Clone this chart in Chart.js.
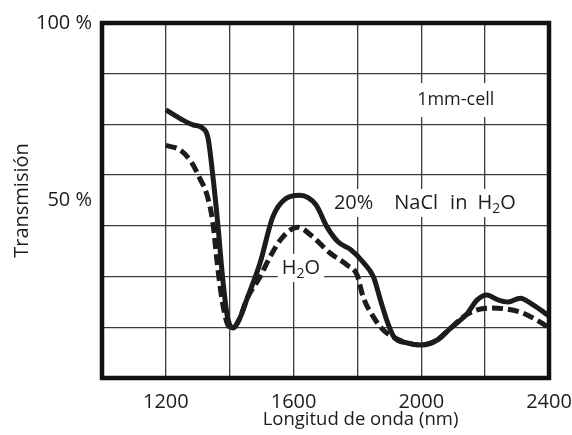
<!DOCTYPE html>
<html>
<head>
<meta charset="utf-8">
<script src="https://cdn.jsdelivr.net/npm/chart.js@4.4.0/dist/chart.umd.min.js"></script>
<style>
    html, body { margin: 0; padding: 0; background: #fff; }
    #wrap { width: 572px; height: 435px; }
</style>
</head>
<body>
<div id="wrap"><canvas id="myChart"></canvas></div>
<script>
// 20% NaCl in H2O (solid line)
const naclNm = [1200, 1250, 1285, 1315, 1332, 1348, 1363, 1377, 1392, 1410, 1430, 1455, 1495, 1535, 1575, 1620, 1670, 1705, 1740, 1780, 1820, 1850, 1872, 1895, 1915, 1955, 2000, 2050, 2085, 2145, 2175, 2205, 2240, 2272, 2310, 2350, 2400]
const naclT = [75.5, 72.8, 71.3, 70.4, 67.6, 56.3, 43.1, 29.0, 17.7, 14.1, 16.5, 22.5, 32.4, 45.4, 50.5, 51.5, 48.8, 42.5, 38.3, 36.1, 32.4, 28.5, 22.0, 15.5, 11.5, 9.9, 9.3, 10.7, 13.5, 18.3, 22.0, 23.4, 22.0, 21.4, 22.5, 20.6, 17.5]

// pure H2O (dashed line)
const waterNm = [1200, 1245, 1280, 1306, 1329, 1347, 1360, 1376, 1394, 1410, 1430, 1455, 1495, 1526, 1566, 1613, 1661, 1714, 1768, 1799, 1818, 1850, 1881, 1913, 1955, 2000, 2050, 2085, 2131, 2175, 2215, 2268, 2318, 2362, 2400]
const waterT = [65.5, 64.2, 60.8, 56.3, 51.5, 43.9, 33.0, 22.0, 15.0, 14.1, 16.5, 22.5, 28.5, 34.1, 39.7, 42.5, 39.7, 35.2, 31.8, 29.0, 22.8, 17.2, 13.5, 11.5, 9.9, 9.3, 10.7, 13.5, 17.2, 19.2, 19.7, 19.4, 18.3, 16.3, 14.2]

const xLabels = [1200, 1600, 2000, 2400]
const yLabels = [50, 100]
const yGridSteps = 7
const xTitle = 'Longitud de onda (nm)'

const FONT = "'Open Sans', 'DejaVu Sans', sans-serif"
const INK = '#1c1c1c'

// text notes inside the plot (data coords + text parts; sub = subscript, gap = extra space)
const notes = [
    { x: 2108, y: 78.3, padX: 3, padY: 17, size: 18, parts: [{ t: '1mm-cell' }] },
    { x: 2011, y: 49.3, padX: 4, padY: 14, size: 20, parts: [{ t: '20%' }, { gap: 21 }, { t: 'NaCl' }, { gap: 12 }, { t: 'in' }, { gap: 10 }, { t: 'H' }, { t: '2', sub: true }, { t: 'O' }] },
    { x: 1623, y: 31.0, padX: 4, padY: 14, size: 20, parts: [{ t: 'H' }, { t: '2', sub: true }, { t: 'O' }] }
]

const notesPlugin = {
    id: 'notes',
    beforeDatasetsDraw(chart) {
        const ctx = chart.ctx
        const xs = chart.scales.x
        const ys = chart.scales.y
        ctx.save()
        ctx.textBaseline = 'middle'
        ctx.textAlign = 'left'
        notes.forEach(n => {
            const subSize = Math.round(n.size * 0.68)
            let w = 0
            n.parts.forEach(p => {
                if (p.gap) { p.w = p.gap } else {
                    ctx.font = (p.sub ? subSize : n.size) + 'px ' + FONT
                    p.w = ctx.measureText(p.t).width
                }
                w += p.w
            })
            const cx = xs.getPixelForValue(n.x)
            const cy = ys.getPixelForValue(n.y)
            ctx.fillStyle = '#fff'
            ctx.fillRect(cx - w / 2 - n.padX, cy - n.padY, w + 2 * n.padX, 2 * n.padY)
            ctx.fillStyle = INK
            let x = cx - w / 2
            n.parts.forEach(p => {
                if (!p.gap) {
                    ctx.font = (p.sub ? subSize : n.size) + 'px ' + FONT
                    ctx.fillText(p.t, x, p.sub ? cy + 6 : cy)
                }
                x += p.w
            })
        })
        ctx.restore()
    }
}

// thick frame round the plot area, plus the x title (sits right of centre in the original)
const framePlugin = {
    id: 'frame',
    afterDatasetsDraw(chart) {
        const { ctx, chartArea: a } = chart
        ctx.save()
        ctx.lineWidth = 4.5
        ctx.strokeStyle = '#111'
        ctx.strokeRect(a.left, a.top, a.right - a.left, a.bottom - a.top)
        ctx.fillStyle = INK
        ctx.font = '18.5px ' + FONT
        ctx.textAlign = 'center'
        ctx.textBaseline = 'middle'
        ctx.fillText(xTitle, (a.left + a.right) / 2 + 35, 420)
        ctx.restore()
    }
}

const toPoints = (xs, ys) => xs.map((x, i) => ({ x: x, y: ys[i] }))

const ctx = document.getElementById('myChart').getContext('2d')

const myChart = new Chart(ctx, {
    type: 'line',
    data: {
        datasets: [{
            label: '20% NaCl in H2O',
            data: toPoints(naclNm, naclT),
            borderColor: INK,
            borderWidth: 5,
            pointRadius: 0,
            cubicInterpolationMode: 'monotone',
            fill: false
        }, {
            label: 'H2O',
            data: toPoints(waterNm, waterT),
            borderColor: INK,
            borderWidth: 5,
            borderDash: [11, 5],
            pointRadius: 0,
            cubicInterpolationMode: 'monotone',
            fill: false
        }]
    },
    options: {
        responsive: true,
        maintainAspectRatio: false,
        animation: false,
        layout: { padding: { top: 23, right: 23, left: 0, bottom: 0 } },
        plugins: {
            legend: { display: false },
            tooltip: { enabled: false }
        },
        scales: {
            x: {
                type: 'linear',
                min: 1000,
                max: 2400,
                afterFit: (s) => {
                    s.height = 57
                    s.paddingLeft = 0
                    s.paddingRight = 0
                },
                ticks: {
                    stepSize: 200,
                    autoSkip: false,
                    maxRotation: 0,
                    padding: 12,
                    color: INK,
                    font: { family: FONT, size: 20 },
                    callback: (v) => xLabels.includes(v) ? String(v) : ''
                },
                grid: { color: '#3a3a3a', lineWidth: 1.3, drawTicks: false },
                border: { display: false }
            },
            y: {
                min: 0,
                max: 100,
                afterFit: (s) => {
                    s.width = 102
                    s.paddingTop = 0
                    s.paddingBottom = 0
                },
                afterBuildTicks: (s) => {
                    const vals = []
                    for (let k = 0; k <= yGridSteps; k++) vals.push(k * 100 / yGridSteps)
                    yLabels.forEach(v => { if (!vals.some(g => Math.abs(g - v) < 1e-6)) vals.push(v) })
                    vals.sort((a, b) => a - b)
                    s.ticks = vals.map(v => ({ value: v }))
                },
                ticks: {
                    autoSkip: false,
                    padding: 10,
                    color: INK,
                    font: { family: FONT, size: 20 },
                    callback: (v) => yLabels.some(l => Math.abs(l - v) < 1e-6) ? v + ' %' : ''
                },
                grid: {
                    drawTicks: false,
                    lineWidth: 1.3,
                    color: (c) => {
                        const v = c.tick ? c.tick.value : 0
                        const onGrid = Math.abs(v * yGridSteps / 100 - Math.round(v * yGridSteps / 100)) < 1e-6
                        return onGrid ? '#3a3a3a' : 'rgba(0,0,0,0)'
                    }
                },
                border: { display: false },
                title: {
                    display: true,
                    text: 'Transmisión',
                    color: INK,
                    font: { family: FONT, size: 20 },
                    padding: { top: 10, bottom: 0 }
                }
            }
        }
    },
    plugins: [notesPlugin, framePlugin]
})
</script>
</body>
</html>
